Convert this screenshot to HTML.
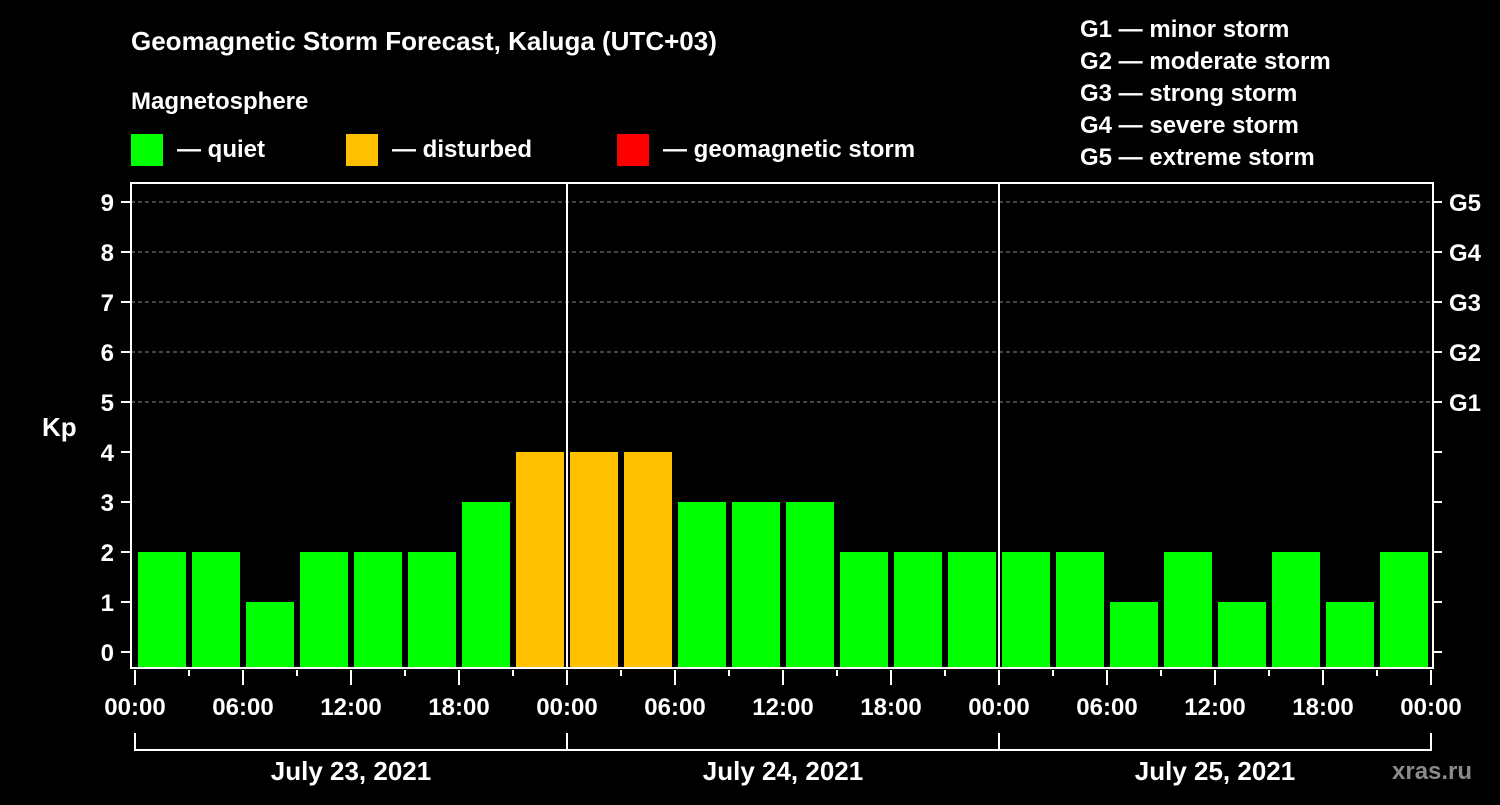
<!DOCTYPE html>
<html><head><meta charset="utf-8"><style>
body{margin:0;background:#000;width:1500px;height:800px;overflow:hidden;font-family:"Liberation Sans",sans-serif}
svg text{font-family:"Liberation Sans",sans-serif;font-weight:bold;fill:#fff}
</style></head><body>
<svg width="1500" height="800">
<text x="131" y="50" font-size="26">Geomagnetic Storm Forecast, Kaluga (UTC+03)</text>
<text x="131" y="109" font-size="24">Magnetosphere</text>
<g>
<rect x="131" y="134" width="32" height="32" fill="#00ff00"/>
<text x="177" y="157" font-size="24">— quiet</text>
<rect x="346" y="134" width="32" height="32" fill="#ffc000"/>
<text x="392" y="157" font-size="24">— disturbed</text>
<rect x="617" y="134" width="32" height="32" fill="#ff0000"/>
<text x="663" y="157" font-size="24">— geomagnetic storm</text>
</g>
<g font-size="24">
<text x="1080" y="37">G1 — minor storm</text>
<text x="1080" y="69">G2 — moderate storm</text>
<text x="1080" y="101">G3 — strong storm</text>
<text x="1080" y="133">G4 — severe storm</text>
<text x="1080" y="165">G5 — extreme storm</text>
</g>
<g id="plot"></g>
<text x="42" y="436" font-size="26">Kp</text>
<text x="1392" y="779" font-size="24" fill="#888" style="fill:#8a8a8a">xras.ru</text>
</svg>
<script>
const kpValues=[2,2,1,2,2,2,3,4,4,4,3,3,3,2,2,2,2,2,1,2,1,2,1,2];
const yTicks=[0,1,2,3,4,5,6,7,8,9];
const gLabels=["G1","G2","G3","G4","G5"];
const timeLabels=["00:00","06:00","12:00","18:00"];
const dayLabels=["July 23, 2021","July 24, 2021","July 25, 2021"];
const NS="http://www.w3.org/2000/svg";
const g=document.getElementById('plot');
const L=131,R=1433,T=183,B=668,X0=135,DAY=432;
const y=v=>652-v*50;
const x=h=>X0+h*18;
function mk(t,a,p){const e=document.createElementNS(NS,t);for(const k in a)e.setAttribute(k,a[k]);(p||g).appendChild(e);return e;}
// grid
for(let i=5;i<=9;i++){const e=mk('line',{x1:L,x2:R,y1:y(i),y2:y(i),stroke:'#888','stroke-dasharray':'4,3'});

}
// bars
kpValues.forEach((v,i)=>{const c=v>=5?'#ff0000':v>=4?'#ffc000':'#00ff00';
const r=mk('rect',{x:x(i*3)+3,y:y(v),width:48,height:B-y(v),fill:c});

});
// day separators
for(let d=1;d<3;d++){const e=mk('line',{x1:X0+d*DAY,x2:X0+d*DAY,y1:T,y2:B,stroke:'#fff','stroke-width':2});

}
const f=mk('rect',{x:L,y:T,width:R-L,height:B-T,fill:'none',stroke:'#fff','stroke-width':2});


yTicks.forEach(v=>{mk('line',{x1:121,x2:L,y1:y(v),y2:y(v),stroke:'#fff','stroke-width':2});
mk('line',{x1:R,x2:1442,y1:y(v),y2:y(v),stroke:'#fff','stroke-width':2});
const t=mk('text',{x:114,y:y(v)+9,'font-size':24,'text-anchor':'end'});t.textContent=v;

});
gLabels.forEach((s,i)=>{const t=mk('text',{x:1449,y:y(5+i)+9,'font-size':24});t.textContent=s;

});
for(let h=0;h<=72;h+=3){const major=h%6==0;mk('line',{x1:x(h),x2:x(h),y1:B+2,y2:major?B+17:B+8,stroke:'#fff','stroke-width':2});
if(major){const t=mk('text',{x:x(h),y:715,'font-size':24,'text-anchor':'middle'});t.textContent=timeLabels[(h/6)%4];

}}
mk('path',{d:`M${X0} 733V750H${X0+3*DAY}V733M${X0+DAY} 733V750M${X0+2*DAY} 733V750`,stroke:'#fff','stroke-width':2,fill:'none'});
dayLabels.forEach((s,i)=>{const t=mk('text',{x:X0+i*DAY+DAY/2,y:780,'font-size':26,'text-anchor':'middle'});t.textContent=s;

});
</script>
</body></html>
